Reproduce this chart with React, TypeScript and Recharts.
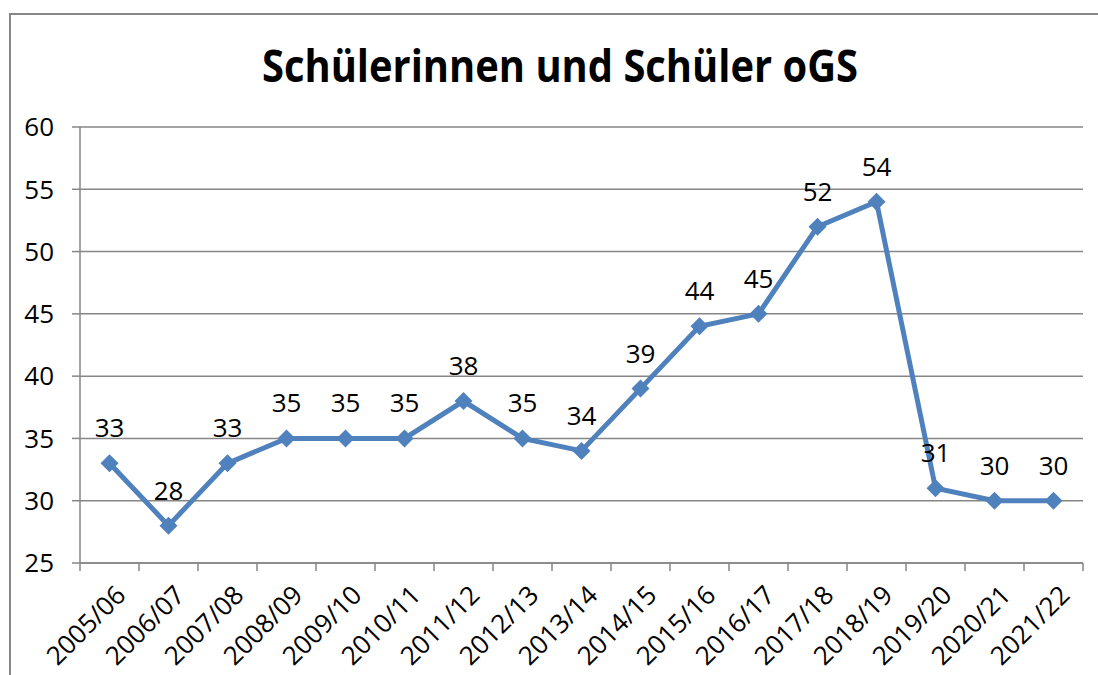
// Schülerinnen und Schüler oGS – Liniendiagramm nach Schuljahren
import { CartesianGrid, Line, LineChart, XAxis, YAxis, LabelList } from 'recharts'

const years = [
  '2005/06', '2006/07', '2007/08', '2008/09', '2009/10', '2010/11', '2011/12', '2012/13', '2013/14',
  '2014/15', '2015/16', '2016/17', '2017/18', '2018/19', '2019/20', '2020/21', '2021/22',
]
const students = [33, 28, 33, 35, 35, 35, 38, 35, 34, 39, 44, 45, 52, 54, 31, 30, 30]
const yTicks = [25, 30, 35, 40, 45, 50, 55, 60]
// Ticks on the category boundaries (whole numbers) and on the category centres (halves)
const xTicks = Array.from({ length: years.length * 2 + 1 }, (_, i) => i / 2)

const data = years.map((year, i) => ({ pos: i + 0.5, year, students: students[i] }))

const FONT = '"Open Sans", "Liberation Sans", sans-serif'
const GRID = '#868686'
const BLUE = '#4F81BD'
const FS = 26

// Boundary ticks draw a short tick line, centre ticks draw the rotated year label
const YearTick = (props: any) => {
  const { x = 0, y = 0, payload } = props
  const v = payload.value as number
  if (Number.isInteger(v)) {
    return <line x1={x} x2={x} y1={y} y2={y + 8} stroke={GRID} strokeWidth={1.5} />
  }
  return (
    <g transform={`translate(${x + 2},${y + 18})`}>
      <text transform="rotate(-45)" textAnchor="end" dominantBaseline="hanging" fontSize={FS} fill="#000" fontFamily={FONT}>
        {years[Math.floor(v)]}
      </text>
    </g>
  )
}

const Diamond = (props: any) => {
  const { cx, cy } = props
  if (cx == null || cy == null) return <g />
  const r = 9
  return <path d={`M${cx},${cy - r}L${cx + r},${cy}L${cx},${cy + r}L${cx - r},${cy}Z`} fill={BLUE} />
}

export default function App() {
  return (
    <div style={{ position: 'absolute', left: 0, top: 0, width: 1098, height: 675, overflow: 'hidden', background: '#fff' }}>
      <div style={{ position: 'absolute', left: 9, top: 13, width: 1200, height: 800, border: `2px solid ${GRID}` }} />
      <svg style={{ position: 'absolute', left: 0, top: 0 }} width={1098} height={110}>
        <text x={560} y={82} textAnchor="middle" fontSize={44} fontWeight={700} fontFamily={FONT} fill="#000"
          textLength={596} lengthAdjust="spacingAndGlyphs">
          Schülerinnen und Schüler oGS
        </text>
      </svg>
      <div style={{ position: 'absolute', left: 0, top: 0 }}>
        <LineChart width={1098} height={675} data={data} margin={{ top: 127, right: 15, bottom: 0, left: 0 }}>
          <CartesianGrid vertical={false} stroke={GRID} strokeWidth={1.5} />
          <XAxis dataKey="pos" type="number" domain={[0, years.length]} ticks={xTicks} height={112}
            tickLine={false} tickSize={0} tickMargin={0} stroke={GRID} strokeWidth={1.5} interval={0}
            tick={<YearTick />} />
          <YAxis domain={[25, 60]} ticks={yTicks} width={80} tickSize={8} tickMargin={18} stroke={GRID} strokeWidth={1.5}
            tick={{ fontSize: FS, fill: '#000', fontFamily: FONT }} interval={0} />
          <Line dataKey="students" stroke={BLUE} strokeWidth={5} dot={<Diamond />} activeDot={false}
            isAnimationActive={false}>
            <LabelList dataKey="students" position="top" offset={26} fontSize={FS} fill="#000" fontFamily={FONT} />
          </Line>
        </LineChart>
      </div>
    </div>
  )
}
